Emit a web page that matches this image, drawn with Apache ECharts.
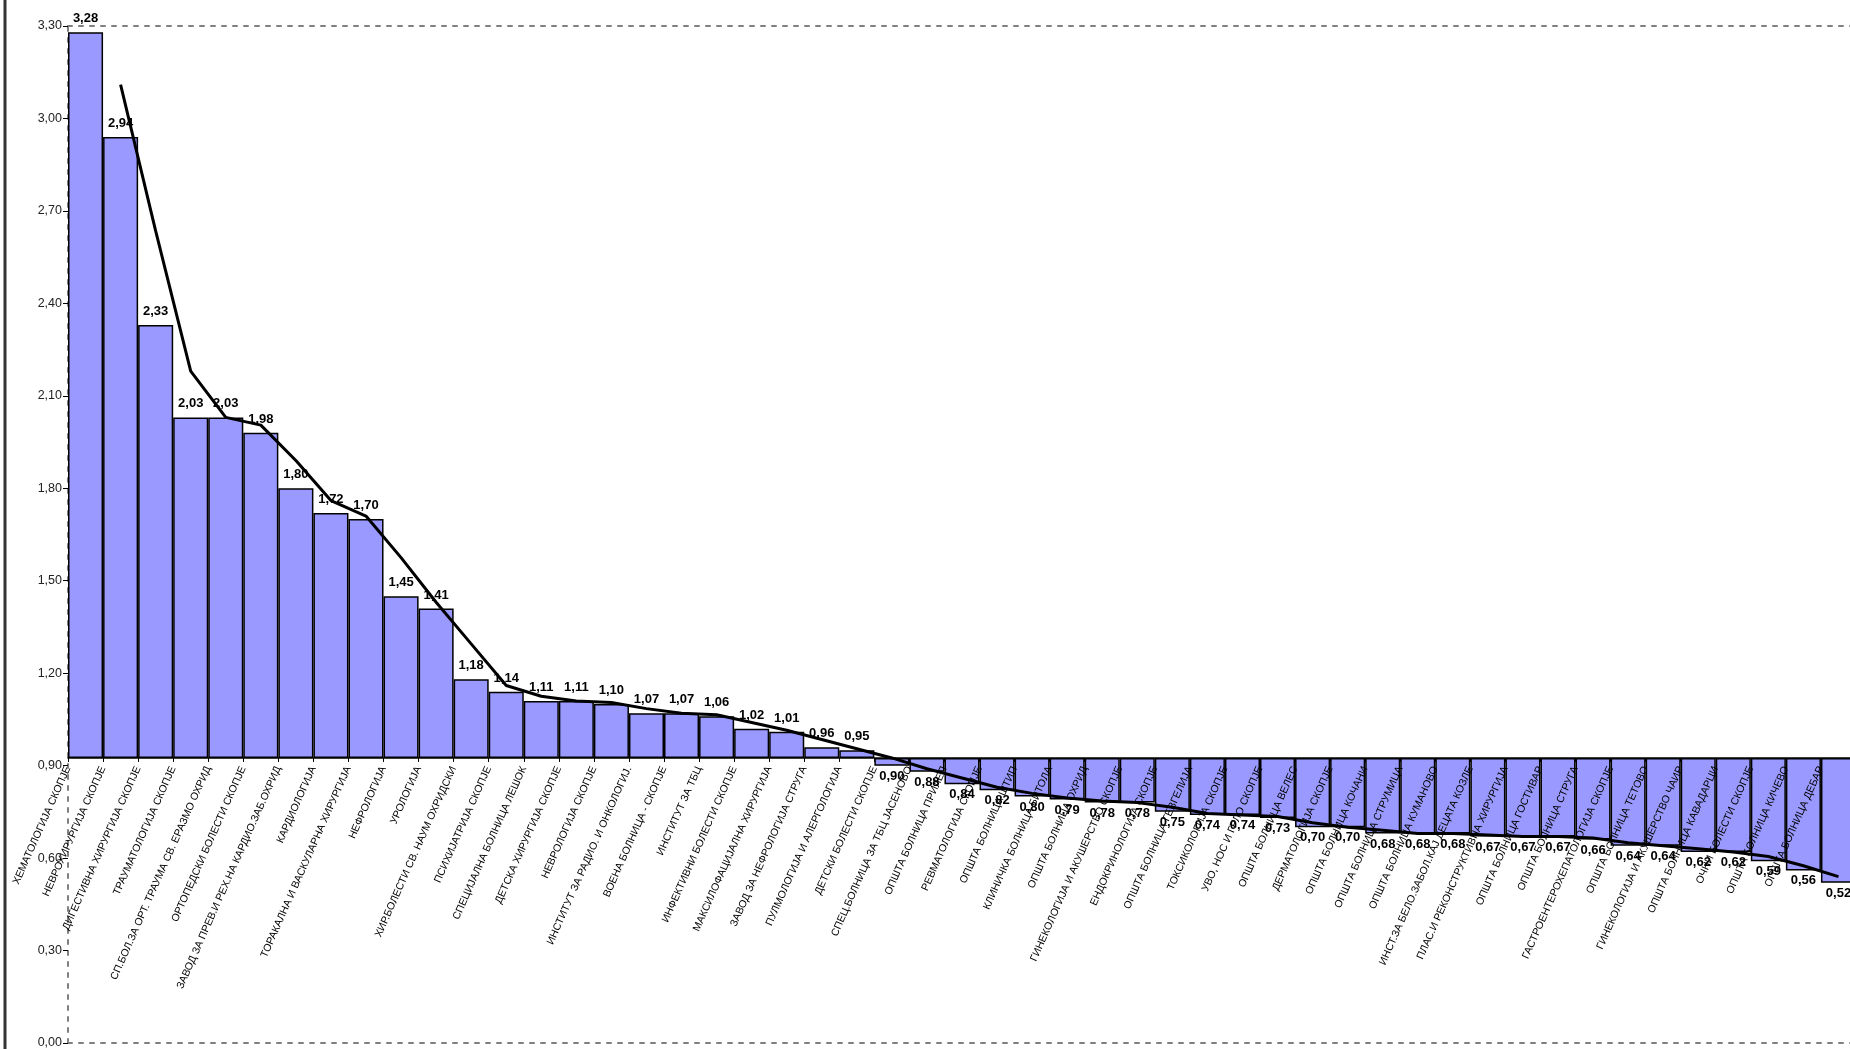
<!DOCTYPE html>
<html>
<head>
<meta charset="utf-8">
<script src="https://cdn.jsdelivr.net/npm/echarts@6/dist/echarts.min.js"></script>
<style>
html,body{margin:0;padding:0;background:#ffffff;}
#chart{width:1850px;height:1049px;}
</style>
</head>
<body>
<div id="chart"></div>
<script>
const categories = [
  'ХЕМАТОЛОГИЈА СКОПЈЕ',
  'НЕВРОХИРУРГИЈА СКОПЈЕ',
  'ДИГЕСТИВНА ХИРУРГИЈА СКОПЈЕ',
  'ТРАУМАТОЛОГИЈА СКОПЈЕ',
  'СП.БОЛ.ЗА ОРТ. ТРАУМА СВ. ЕРАЗМО ОХРИД',
  'ОРТОПЕДСКИ БОЛЕСТИ СКОПЈЕ',
  'ЗАВОД ЗА ПРЕВ.И РЕХ.НА КАРДИО.ЗАБ.ОХРИД',
  'КАРДИОЛОГИЈА',
  'ТОРАКАЛНА И ВАСКУЛАРНА ХИРУРГИЈА',
  'НЕФРОЛОГИЈА',
  'УРОЛОГИЈА',
  'ХИР.БОЛЕСТИ СВ. НАУМ ОХРИДСКИ',
  'ПСИХИЈАТРИЈА СКОПЈЕ',
  'СПЕЦИЈАЛНА БОЛНИЦА ЛЕШОК',
  'ДЕТСКА ХИРУРГИЈА СКОПЈЕ',
  'НЕВРОЛОГИЈА СКОПЈЕ',
  'ИНСТИТУТ ЗА РАДИО. И ОНКОЛОГИЈ.',
  'ВОЕНА БОЛНИЦА - СКОПЈЕ',
  'ИНСТИТУТ ЗА ТБЦ',
  'ИНФЕКТИВНИ БОЛЕСТИ СКОПЈЕ',
  'МАКСИЛОФАЦИЈАЛНА ХИРУРГИЈА',
  'ЗАВОД ЗА НЕФРОЛОГИЈА СТРУГА',
  'ПУЛМОЛОГИЈА И АЛЕРГОЛОГИЈА',
  'ДЕТСКИ БОЛЕСТИ СКОПЈЕ',
  'СПЕЦ.БОЛНИЦА ЗА ТБЦ ЈАСЕНОВО',
  'ОПШТА БОЛНИЦА ПРИЛЕП',
  'РЕВМАТОЛОГИЈА СКОПЈЕ',
  'ОПШТА БОЛНИЦА ШТИП',
  'КЛИНИЧКА БОЛНИЦА БИТОЛА',
  'ОПШТА БОЛНИЦА ОХРИД',
  'ГИНЕКОЛОГИЈА И АКУШЕРСТВО СКОПЈЕ',
  'ЕНДОКРИНОЛОГИЈА СКОПЈЕ',
  'ОПШТА БОЛНИЦА ГЕВГЕЛИЈА',
  'ТОКСИКОЛОГИЈА СКОПЈЕ',
  'УВО, НОС И ГРЛО СКОПЈЕ',
  'ОПШТА БОЛНИЦА ВЕЛЕС',
  'ДЕРМАТОЛОГИЈА СКОПЈЕ',
  'ОПШТА БОЛНИЦА КОЧАНИ',
  'ОПШТА БОЛНИЦА СТРУМИЦА',
  'ОПШТА БОЛНИЦА КУМАНОВО',
  'ИНСТ.ЗА БЕЛО.ЗАБОЛ.КАЈ ДЕЦАТА КОЗЛЕ',
  'ПЛАС.И РЕКОНСТРУКТИВНА ХИРУРГИЈА',
  'ОПШТА БОЛНИЦА ГОСТИВАР',
  'ОПШТА БОЛНИЦА СТРУГА',
  'ГАСТРОЕНТЕРОХЕПАТОЛОГИЈА СКОПЈЕ',
  'ОПШТА БОЛНИЦА ТЕТОВО',
  'ГИНЕКОЛОГИЈА И АКУШЕРСТВО ЧАИР',
  'ОПШТА БОЛНИЦА КАВАДАРЦИ',
  'ОЧНИ БОЛЕСТИ СКОПЈЕ',
  'ОПШТА БОЛНИЦА КИЧЕВО',
  'ОПШТА БОЛНИЦА ДЕБАР'
];

const values = [
  3.28, 2.94, 2.33, 2.03, 2.03, 1.98, 1.80, 1.72, 1.70, 1.45,
  1.41, 1.18, 1.14, 1.11, 1.11, 1.10, 1.07, 1.07, 1.06, 1.02,
  1.01, 0.96, 0.95, 0.90, 0.88, 0.84, 0.82, 0.80, 0.79, 0.78,
  0.78, 0.75, 0.74, 0.74, 0.73, 0.70, 0.70, 0.68, 0.68, 0.68,
  0.67, 0.67, 0.67, 0.66, 0.64, 0.64, 0.62, 0.62, 0.59, 0.56,
  0.52
];

// horizontal axis crossing value (bars grow up/down from here)
const crossValue = 0.925;

// value axis
const yMin = 0;
const yMax = 3.3;
const yInterval = 0.3;

// 2-period moving average trendline (as in the source chart)
const trendPeriod = 2;

const fmt = v => v.toFixed(2).replace('.', ',');

const trend = values.map((v, i) => {
  if (i < trendPeriod - 1) return null;
  let s = 0;
  for (let k = 0; k < trendPeriod; k++) s += values[i - k];
  return +(s / trendPeriod).toFixed(4);
});

const barData = values.map(v => {
  const up = v >= crossValue;
  return {
    value: +(v - crossValue).toFixed(4),
    label: { position: up ? 'top' : 'bottom', distance: up ? 7 : 4 }
  };
});

// category names placed on the category boundaries (as the source draws them)
const boundaryLabels = categories.concat(['']);

const CH = 1049, GRID_TOP = 26, GRID_BOTTOM = 6;
const plotH = CH - GRID_TOP - GRID_BOTTOM;
// move the category axis from the plot bottom up to the crossing value
const crossOffset = -((crossValue - yMin) / (yMax - yMin)) * plotH;

const chart = echarts.init(document.getElementById('chart'), null, { renderer: 'canvas' });

const dashed = { color: '#808080', width: 2, type: [4, 7] };

const option = {
  animation: false,
  backgroundColor: '#ffffff',
  grid: {
    left: 68, right: -6, top: GRID_TOP, bottom: GRID_BOTTOM,
    containLabel: false,
    outerBoundsMode: 'none'
  },
  xAxis: [
    {
      type: 'category',
      data: categories,
      position: 'bottom',
      offset: crossOffset,
      axisLine: { show: true, onZero: false, lineStyle: { color: '#000', width: 1.5 } },
      axisTick: { show: true, interval: 0, length: 4, lineStyle: { color: '#000', width: 1 } },
      axisLabel: { show: false },
      splitLine: { show: false },
      z: 3
    },
    {
      type: 'category',
      data: boundaryLabels,
      boundaryGap: false,
      position: 'bottom',
      offset: crossOffset,
      axisLine: { show: false, onZero: false },
      axisTick: { show: false },
      splitLine: { show: false },
      axisLabel: {
        show: true,
        interval: 0,
        rotate: 66,
        margin: 9,
        fontSize: 10.5,
        fontFamily: 'Liberation Sans, Arial, sans-serif',
        color: '#000'
      },
      z: 3
    },
    {
      type: 'category',
      data: categories,
      position: 'top',
      axisLine: { show: true, onZero: false, lineStyle: dashed },
      axisTick: { show: false },
      axisLabel: { show: false },
      splitLine: { show: false }
    },
    {
      type: 'category',
      data: categories,
      position: 'bottom',
      axisLine: { show: true, onZero: false, lineStyle: dashed },
      axisTick: { show: false },
      axisLabel: { show: false },
      splitLine: { show: false }
    }
  ],
  yAxis: [
    {
      type: 'value',
      min: yMin,
      max: yMax,
      interval: yInterval,
      position: 'left',
      axisLine: { show: true, onZero: false, lineStyle: dashed },
      axisTick: { show: true, length: 5, lineStyle: { color: '#000', width: 1 } },
      axisLabel: {
        formatter: v => fmt(v),
        fontSize: 12.5,
        fontFamily: 'Liberation Sans, Arial, sans-serif',
        color: '#222',
        margin: 6
      },
      splitLine: { show: false }
    },
    {
      type: 'value',
      min: yMin - crossValue,
      max: yMax - crossValue,
      position: 'right',
      show: false,
      splitLine: { show: false }
    }
  ],
  series: [
    {
      type: 'bar',
      xAxisIndex: 0,
      yAxisIndex: 1,
      data: barData,
      barCategoryGap: '0%',
      itemStyle: { color: '#9999FF', borderColor: '#000', borderWidth: 1.5 },
      label: {
        show: true,
        formatter: p => fmt(values[p.dataIndex]),
        fontWeight: 'bold',
        fontSize: 13,
        fontFamily: 'Liberation Sans, Arial, sans-serif',
        color: '#000'
      },
      z: 2
    },
    {
      type: 'line',
      xAxisIndex: 0,
      yAxisIndex: 0,
      data: trend,
      symbol: 'none',
      smooth: false,
      connectNulls: false,
      lineStyle: { color: '#000', width: 3 },
      z: 4
    }
  ],
  graphic: [
    {
      type: 'line',
      shape: { x1: 5, y1: 0, x2: 5, y2: 1049 },
      style: { stroke: '#333', lineWidth: 3 },
      silent: true
    }
  ]
};

chart.setOption(option);
</script>
</body>
</html>
